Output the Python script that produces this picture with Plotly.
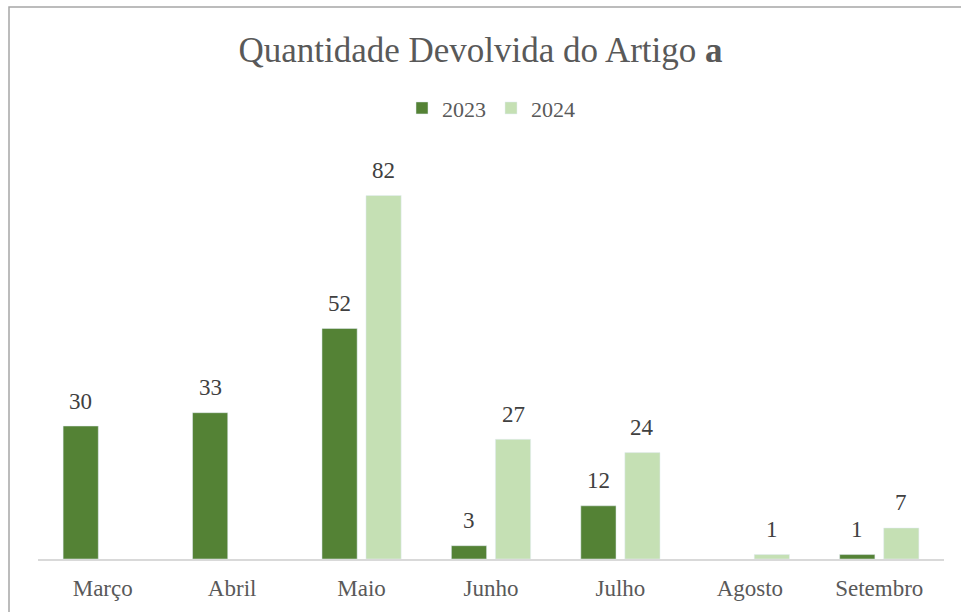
import plotly.graph_objects as go

months = ["Março", "Abril", "Maio", "Junho", "Julho", "Agosto", "Setembro"]
qty_2023 = [30, 33, 52, 3, 12, None, 1]
qty_2024 = [None, None, 82, 27, 24, 1, 7]

serif = "Liberation Serif"
label_color = "#404040"

fig = go.Figure()
fig.add_trace(go.Bar(x=months, y=qty_2023, name="2023", marker=dict(color="#548235")))
fig.add_trace(go.Bar(x=months, y=qty_2024, name="2024", marker=dict(color="#C5E0B4")))

# value labels sit a bit higher above the bars than plotly's "outside" text
annotations = []
for values, shift in ((qty_2023, -22), (qty_2024, 22)):
    for m, v in zip(months, values):
        if v is None:
            continue
        annotations.append(dict(
            x=m, y=v, xref="x", yref="y", text=str(v), showarrow=False,
            xshift=shift, yshift=25, yanchor="middle",
            font=dict(size=23, color=label_color, family=serif),
        ))

fig.update_layout(
    width=961, height=612,
    paper_bgcolor="white", plot_bgcolor="white",
    font=dict(family=serif, color="#595959", size=22),
    title=dict(
        text="Quantidade Devolvida do Artigo <b>a</b>",
        x=0.5, xanchor="center", y=1 - 50 / 612, yanchor="middle",
        font=dict(size=35, color="#595959", family=serif),
    ),
    barmode="group", bargap=0.32, bargroupgap=0.2,
    margin=dict(l=38, r=17, t=160, b=53),
    showlegend=True,
    legend=dict(
        orientation="h", x=0.5, xanchor="center", y=1.13, yanchor="middle",
        font=dict(size=22, color="#595959", family=serif),
        itemwidth=30,
    ),
    xaxis=dict(
        showgrid=False, showline=True, linecolor="#d9d9d9", linewidth=1.5,
        ticks="", ticklabelstandoff=8,
        tickfont=dict(size=23, color="#595959", family=serif),
    ),
    yaxis=dict(range=[0, 90], visible=False, showgrid=False),
    annotations=annotations,
    shapes=[dict(
        type="rect", xref="paper", yref="paper",
        x0=(9 - 38) / 906, x1=1.2, y0=-0.3, y1=(559 - 7) / 399,
        line=dict(color="#a6a6a6", width=1.5), fillcolor="rgba(0,0,0,0)",
    )],
)

fig.write_html(
    "out.html",
    config={"displayModeBar": False},
    post_script="document.body.style.margin='0';",
)
